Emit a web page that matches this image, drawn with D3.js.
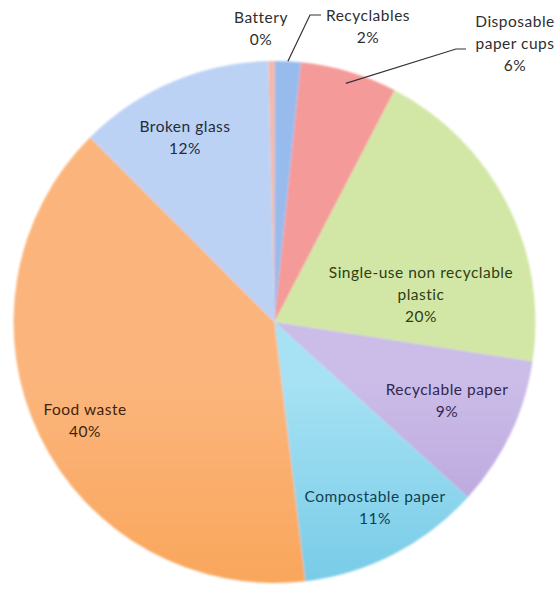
<!DOCTYPE html>
<html><head><meta charset="utf-8">
<script src="https://cdn.jsdelivr.net/npm/d3@7"></script>
<style>body{margin:0;background:#fff}svg{display:block}</style>
</head><body>
<script>
const categories = ["Battery","Recyclables","Disposable paper cups","Single-use non recyclable plastic","Recyclable paper","Compostable paper","Food waste","Broken glass"];
const values = [0.4, 1.6, 6.0, 19.8, 9.3, 11.4, 39.4, 12.1];
const percentLabels = ["0%","2%","6%","20%","9%","11%","40%","12%"];
const labelLines = [["Battery","0%"],["Recyclables","2%"],["Disposable","paper cups","6%"],["Single-use non recyclable","plastic","20%"],["Recyclable paper","9%"],["Compostable paper","11%"],["Food waste","40%"],["Broken glass","12%"]];
const lightColors = ["#f5b8a8","#98bbee","#f49a98","#d2e7a6","#cbbce8","#a6e2f4","#fbb57c","#bcd2f4"];
const darkColors  = ["#e08470","#6a94d8","#d9504c","#8fbd44","#8c6cbd","#2ea6d2","#f68f2a","#8daee2"];
const textColors  = ["#2e2e2e","#2e2e2e","#2e2e2e","#2f3d14","#33274f","#123f50","#3f230b","#222b3d"];

const W = 559, H = 592, cx = 274.5, cy = 322, R = 261;
const svg = d3.select("body").append("svg").attr("width", W).attr("height", H);
const defs = svg.append("defs");
categories.forEach((c, i) => {
  const g = defs.append("linearGradient").attr("id", "g" + i)
    .attr("gradientUnits", "userSpaceOnUse")
    .attr("x1", 0).attr("x2", 0).attr("y1", cy - R).attr("y2", cy + R);
  g.append("stop").attr("offset", "0").attr("stop-color", lightColors[i]);
  g.append("stop").attr("offset", "1").attr("stop-color", darkColors[i]);
});
const f = defs.append("filter").attr("id", "soft").attr("x", "-5%").attr("y", "-5%").attr("width", "110%").attr("height", "110%");
f.append("feGaussianBlur").attr("stdDeviation", 0.8);

const startA = -0.024;
const pie = d3.pie().sort(null).value(d => d).startAngle(startA).endAngle(startA + 2 * Math.PI);
const arcs = pie(values);
const arc = d3.arc().innerRadius(0).outerRadius(R);

const g = svg.append("g").attr("transform", `translate(${cx},${cy})`);
g.append("g").attr("filter", "url(#soft)").selectAll("path").data(arcs).enter().append("path")
  .attr("d", arc).attr("fill", (d, i) => `url(#g${i})`);

// label positions (absolute)
const labelPos = [[261,18],[368,16],[515,22],[421,273],[447,390],[375,497],[85,410],[185,127]];
const lh = 22;
const font = "Lato, 'Open Sans', sans-serif";
labelLines.forEach((lines, i) => {
  const t = svg.append("text").attr("text-anchor", "middle")
    .attr("font-family", font).attr("font-size", 15.5).attr("letter-spacing", 0.5)
    .attr("fill", textColors[i]);
  lines.forEach((s, k) => {
    t.append("tspan").attr("x", labelPos[i][0]).attr("y", labelPos[i][1] + k * lh).attr("dy", "0.35em").text(s);
  });
});

// leader lines
const leader = d3.line();
const edgePoint = (i, rr) => {
  const a = (arcs[i].startAngle + arcs[i].endAngle) / 2;
  return [cx + rr * Math.sin(a), cy - rr * Math.cos(a)];
};
const p1 = edgePoint(1, R);
svg.append("path").attr("d", leader([p1, [310, 15], [321, 15]]))
  .attr("fill", "none").attr("stroke", "#333").attr("stroke-width", 1.2);
const p2 = edgePoint(2, R - 12);
svg.append("path").attr("d", leader([p2, [456, 49], [466, 49]]))
  .attr("fill", "none").attr("stroke", "#333").attr("stroke-width", 1.2);
</script>
</body></html>
